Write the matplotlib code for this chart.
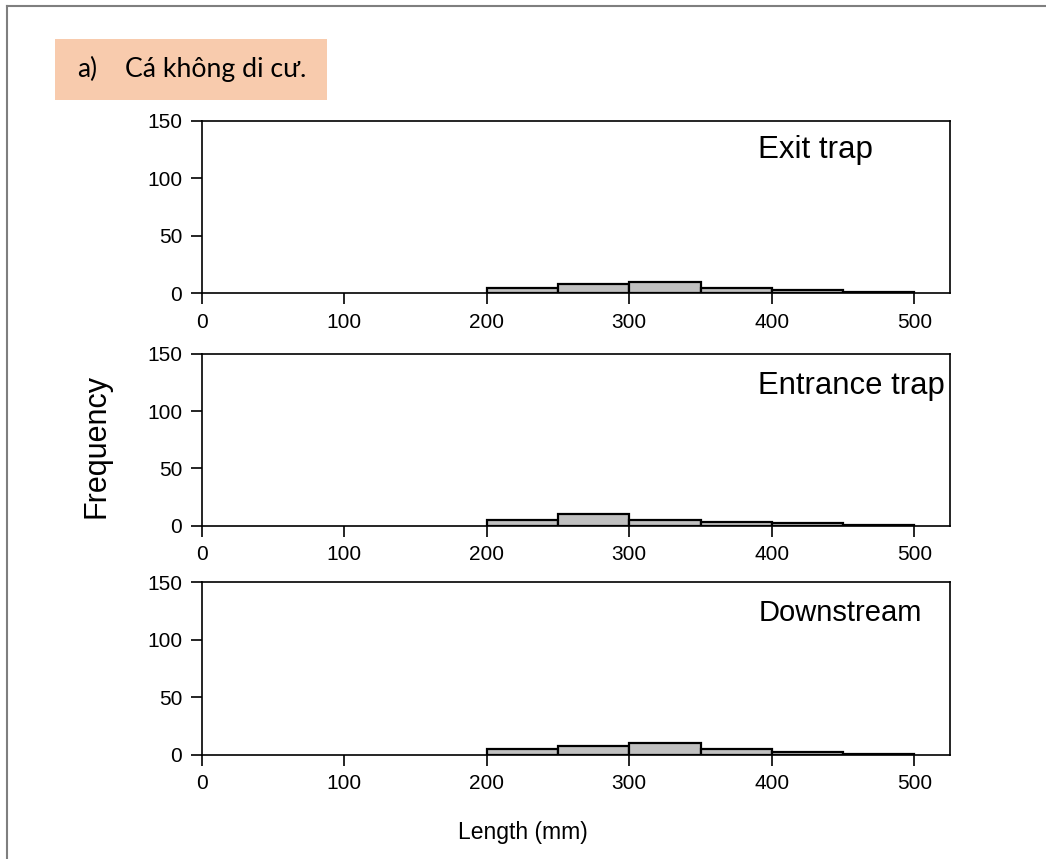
import numpy as np
import matplotlib.pyplot as plt
from matplotlib.patches import Rectangle
from matplotlib.lines import Line2D

plt.rcParams['font.family'] = ['Liberation Sans', 'DejaVu Sans']

# length bins (mm) and counts per site
bin_edges = [200, 250, 300, 350, 400, 450, 500]
exit_counts = [5, 8, 10, 5, 3, 1]
entrance_counts = [5, 10, 5, 3, 2, 1]
downstream_counts = [5, 8, 10, 5, 3, 1]

panels = [("Exit trap", exit_counts, 0.784, 22.5),
          ("Entrance trap", entrance_counts, 0.765, 22.3),
          ("Downstream", downstream_counts, 0.778, 21)]
panel_boxes = [(0.6586, 0.2009), (0.3880, 0.1999), (0.1211, 0.2010)]

fig = plt.figure(figsize=(10.46, 8.59), dpi=100)

for (name, counts, ty, fs), (bottom, h) in zip(panels, panel_boxes):
    ax = fig.add_axes([0.1928, bottom, 0.7154, h])
    edges = np.array(bin_edges)
    ax.bar(edges[:-1], counts, width=np.diff(edges), align='edge',
           color='#c0c0c0', edgecolor='black', linewidth=1.6, zorder=3)
    ax.set_xlim(0, 525)
    ax.set_ylim(0, 150)
    ax.set_xticks([0, 100, 200, 300, 400, 500])
    ax.set_yticks([0, 50, 100, 150])
    ax.tick_params(direction='out', length=8, width=1.2, labelsize=15,
                   pad=6, colors='black')
    for s in ax.spines.values():
        s.set_linewidth(1.2)
        s.set_zorder(4)
    ax.text(390.5, ty * 150, name, fontsize=fs, ha='left', va='baseline')

fig.text(0.0927, 0.481, "Frequency", rotation=90, fontsize=22,
         ha='center', va='center')
fig.text(0.5, 0.0314, "Length (mm)", fontsize=16.5, ha='center', va='center')

# orange caption box
fig.patches.append(Rectangle((55 / 1046, 1 - 100 / 859), 272 / 1046, 61 / 859,
                             transform=fig.transFigure, facecolor='#f8cbad',
                             edgecolor='none', zorder=0))
fig.text(77 / 1046, 1 - 77 / 859, "a)", fontsize=19, family=['Lato', 'DejaVu Sans'],
         ha='left', va='baseline')
fig.text(125 / 1046, 1 - 77 / 859, "Cá không di cư.", fontsize=19.2,
         family=['Lato', 'DejaVu Sans'], ha='left', va='baseline')

# page frame (left and top edges)
fig.lines.append(Line2D([7 / 1046, 7 / 1046], [0, 1 - 6 / 859],
                        transform=fig.transFigure, color='#7f7f7f', linewidth=1.5))
fig.lines.append(Line2D([7 / 1046, 1], [1 - 6 / 859, 1 - 6 / 859],
                        transform=fig.transFigure, color='#7f7f7f', linewidth=1.5))

fig.savefig("out.png", dpi=100)
